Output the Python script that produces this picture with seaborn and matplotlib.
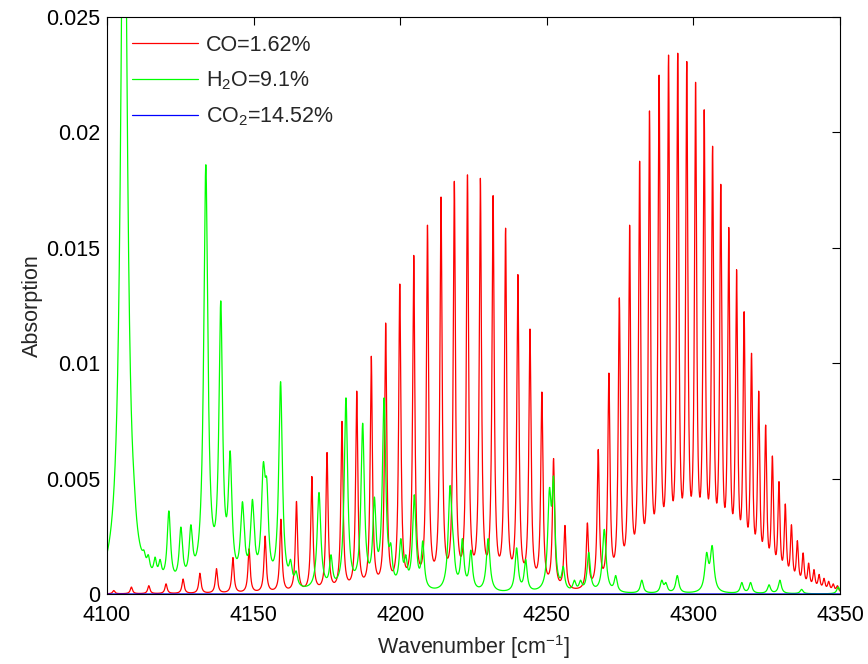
import numpy as np
import pandas as pd
import matplotlib
matplotlib.use("Agg")
import matplotlib.pyplot as plt
import seaborn as sns
from matplotlib.ticker import FixedLocator, FuncFormatter

# ---- CO first overtone (2-0) band: line centres [cm^-1] and apparent peak absorption
# P branch, P(32) ... P(1)
co_p_centers = [4102.30, 4108.32, 4114.26, 4120.14, 4125.94, 4131.68, 4137.34, 4142.94,
                4148.46, 4153.92, 4159.30, 4164.62, 4169.86, 4175.04, 4180.14, 4185.18,
                4190.14, 4195.04, 4199.86, 4204.62, 4209.30, 4213.92, 4218.46, 4222.94,
                4227.34, 4231.68, 4235.94, 4240.14, 4244.26, 4248.32, 4252.30, 4256.19]
co_p_peaks = [0.00015, 0.00030, 0.00036, 0.00044, 0.00065, 0.00090, 0.00110, 0.00158,
              0.00196, 0.00251, 0.00324, 0.00401, 0.00509, 0.00613, 0.00748, 0.00879,
              0.01030, 0.01174, 0.01343, 0.01467, 0.01598, 0.01720, 0.01788, 0.01816,
              0.01801, 0.01726, 0.01585, 0.01384, 0.01148, 0.00875, 0.00587, 0.00297]
# R branch, R(0) ... R(33)
co_r_centers = [4263.84, 4267.54, 4271.18, 4274.74, 4278.24, 4281.66, 4285.02, 4288.30,
                4291.52, 4294.66, 4297.74, 4300.74, 4303.68, 4306.54, 4309.34, 4312.06,
                4314.72, 4317.30, 4319.82, 4322.26, 4324.64, 4326.94, 4329.18, 4331.34,
                4333.44, 4335.46, 4337.42, 4339.30, 4341.12, 4342.86, 4344.54, 4346.14,
                4347.68, 4349.14]
co_r_peaks = [0.00308, 0.00626, 0.00957, 0.01283, 0.01598, 0.01875, 0.02093, 0.02248,
              0.02335, 0.02343, 0.02307, 0.02217, 0.02098, 0.01940, 0.01775, 0.01588,
              0.01405, 0.01223, 0.01043, 0.00879, 0.00732, 0.00598, 0.00487, 0.00390,
              0.00300, 0.00231, 0.00178, 0.00134, 0.00106, 0.00085, 0.00068, 0.00055,
              0.00044, 0.00036]
co_hwhm = 0.45

# ---- H2O lines in the window: centre, apparent peak absorption, half width
h2o_centers = [4105.8, 4109.2, 4112.6, 4114.1, 4116.4, 4118.1, 4121.1, 4125.2, 4128.6,
               4133.7, 4138.8, 4142.0, 4146.2, 4149.6, 4153.3, 4154.5, 4159.2, 4162.6,
               4164.5, 4172.3, 4176.4, 4181.5, 4187.2, 4191.2, 4194.5, 4196.8, 4200.2,
               4201.9, 4204.8, 4207.7, 4217.0, 4218.1, 4221.2, 4224.1, 4230.0, 4239.7,
               4242.8, 4250.9, 4252.3, 4255.6, 4259.4, 4261.5, 4264.3, 4269.6, 4273.5,
               4282.4, 4289.2, 4290.6, 4294.5, 4304.5, 4306.4, 4316.5, 4319.5, 4325.8,
               4329.5, 4336.9, 4349.4]
h2o_peaks = [0.0360, 0.0051, 0.0019, 0.0017, 0.0016, 0.0015, 0.0036, 0.0029, 0.0030,
             0.0186, 0.0127, 0.0062, 0.0040, 0.0041, 0.0057, 0.0050, 0.0092, 0.0015,
             0.0010, 0.0044, 0.0017, 0.0085, 0.0074, 0.0042, 0.0085, 0.0022, 0.0024,
             0.0017, 0.0043, 0.0023, 0.0047, 0.0025, 0.0024, 0.0019, 0.0024, 0.0020,
             0.0015, 0.0046, 0.0051, 0.0012, 0.0006, 0.0006, 0.0018, 0.0028, 0.0008,
             0.0006, 0.0006, 0.0005, 0.0008, 0.0018, 0.0021, 0.0005, 0.0005, 0.0004,
             0.0006, 0.0002, 0.0003]
h2o_hwhm = [1.30, 0.70, 0.60, 0.60, 0.60, 0.60, 0.70, 0.70, 0.70,
            0.85, 0.75, 0.75, 0.80, 0.80, 0.80, 0.70, 0.75, 0.60,
            0.60, 0.75, 0.60, 0.70, 0.70, 0.65, 0.70, 0.60, 0.65,
            0.60, 0.70, 0.60, 0.75, 0.60, 0.65, 0.65, 0.75, 0.65,
            0.60, 0.70, 0.60, 0.60, 0.60, 0.60, 0.65, 0.75, 0.60,
            0.60, 0.60, 0.60, 0.65, 0.75, 0.75, 0.60, 0.60, 0.60,
            0.60, 0.60, 0.60]

# CO2 has no measurable absorption in this window
co2_level = 0.0

series_labels = ["CO=1.62%", "H$_2$O=9.1%", "CO$_2$=14.52%"]
series_colors = ["#ff0000", "#00ff00", "#0000ff"]
x_ticks = [4100, 4150, 4200, 4250, 4300, 4350]
y_ticks = [0, 0.005, 0.01, 0.015, 0.02, 0.025]


def lorentz(x, centers, hwhm):
    c = np.asarray(centers, float)[None, :]
    g = np.broadcast_to(np.asarray(hwhm, float), (c.shape[1],))[None, :]
    return g ** 2 / ((np.asarray(x, float)[:, None] - c) ** 2 + g ** 2)


def line_amplitudes(centers, peaks, hwhm):
    """Scale each Lorentzian so the summed spectrum reaches the given peak values."""
    basis = lorentz(centers, centers, hwhm)
    target = np.asarray(peaks, float)
    amp = target.copy()
    for _ in range(600):
        amp *= target / (basis @ amp)
    return amp


wn = np.arange(4100.0, 4350.0001, 0.01)

co_centers = co_p_centers + co_r_centers
co_peaks = co_p_peaks + co_r_peaks
co_abs = lorentz(wn, co_centers, co_hwhm) @ line_amplitudes(co_centers, co_peaks, co_hwhm)
h2o_abs = lorentz(wn, h2o_centers, h2o_hwhm) @ line_amplitudes(h2o_centers, h2o_peaks, h2o_hwhm)
co2_abs = np.full_like(wn, co2_level)

df = pd.concat([
    pd.DataFrame({"Wavenumber": wn, "Absorption": co_abs, "Gas": series_labels[0]}),
    pd.DataFrame({"Wavenumber": wn, "Absorption": h2o_abs, "Gas": series_labels[1]}),
    pd.DataFrame({"Wavenumber": wn, "Absorption": co2_abs, "Gas": series_labels[2]}),
], ignore_index=True)

sns.set_theme(style="white")
plt.rcParams["font.family"] = ["Liberation Sans", "DejaVu Sans"]
plt.rcParams["mathtext.fontset"] = "custom"
plt.rcParams["mathtext.rm"] = "Liberation Sans"
plt.rcParams["mathtext.it"] = "Liberation Sans:italic"
plt.rcParams["mathtext.bf"] = "Liberation Sans:bold"
plt.rcParams["mathtext.default"] = "regular"

FS = 15.5
fig = plt.figure(figsize=(8.68, 6.64), dpi=100)
ax = fig.add_axes([107 / 868, 70 / 664, 733 / 868, 577 / 664])

sns.lineplot(data=df, x="Wavenumber", y="Absorption", hue="Gas",
             hue_order=series_labels, palette=series_colors,
             estimator=None, sort=False, linewidth=0.9, ax=ax)

ax.set_xlim(4100, 4350)
ax.set_ylim(0, 0.025)
ax.xaxis.set_major_locator(FixedLocator(x_ticks))
ax.yaxis.set_major_locator(FixedLocator(y_ticks))
ax.yaxis.set_major_formatter(FuncFormatter(lambda v, p: f"{v:g}"))
ax.tick_params(axis="both", which="major", direction="in", length=6, width=0.8,
               top=True, right=True, labelsize=FS, colors="black")
ax.tick_params(axis="x", pad=8)
ax.tick_params(axis="y", pad=5)
for s in ax.spines.values():
    s.set_color("black")
    s.set_linewidth(0.8)

ax.set_xlabel("Wavenumber [cm$^{-1}$]", fontsize=FS, labelpad=5)
ax.set_ylabel("Absorption", fontsize=FS, labelpad=2)

old = ax.get_legend()
handles = old.legend_handles
labels = [t.get_text() for t in old.get_texts()]
old.remove()
ax.legend(handles, labels, loc="upper left", bbox_to_anchor=(0.013, 0.995),
          frameon=False, fontsize=FS, handlelength=3.1, handletextpad=0.35,
          labelspacing=0.62, borderaxespad=0.3)

fig.savefig("out.png", dpi=100, facecolor="white")
